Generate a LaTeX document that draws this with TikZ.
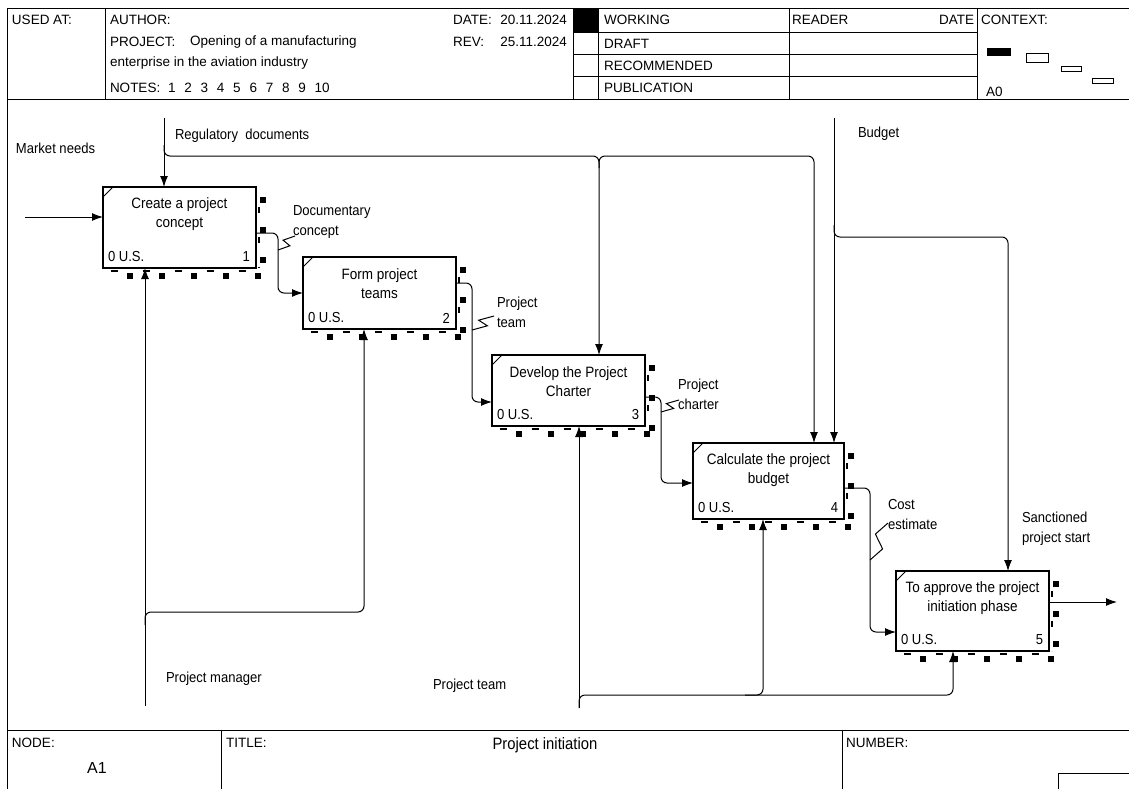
\documentclass[tikz,border=0pt]{standalone}
\usepackage{fontspec}
\setmainfont{Liberation Sans}[FakeStretch=0.9]
\newfontfamily\hdrfont{Liberation Sans}
\usetikzlibrary{arrows.meta,calc}
\newcommand\actbox[8]{%
  \node[abox, minimum width=#4pt, minimum height=#5pt] (#1) at (#2,#3) {};
  \draw[line width=1pt] (#2,#3+10) -- (#2+10,#3);
  \node[btxt] at (#2+#4/2, #3+27) {#6\\#7};
  \node[sm, anchor=west] at (#2+5, #3+#5-11) {0 U.S.};
  \node[sm, anchor=east] at (#2+#4-6, #3+#5-11) {#8};
  \draw[line width=6pt, dash pattern=on 6pt off 26pt] (#2+24,#3+#5+8) -- (#2+#4+10,#3+#5+8);
  \draw[line width=2.5pt, dash pattern=on 7pt off 25pt] (#2+8,#3+#5+3) -- (#2+#4,#3+#5+3);
  \draw[line width=6pt, dash pattern=on 6pt off 24pt] (#2+#4+7,#3+10) -- (#2+#4+7,#3+#5+10);
  \draw[line width=2.5pt, dash pattern=on 6pt off 24pt] (#2+#4+3,#3+20) -- (#2+#4+3,#3+#5);
}
\newcommand\squig[4]{\draw[conn] (#1,#2) -- ({#1+0.7*(#3-#1)},{#2+0.3*(#4-#2)}) -- ({#1+0.3*(#3-#1)},{#2+0.7*(#4-#2)}) -- (#3,#4);}
\begin{document}
\begin{tikzpicture}[x=1pt,y=-1pt,
  every node/.style={inner sep=0pt, outer sep=0pt},
  hdr/.style={font=\hdrfont\fontsize{13.5}{16}\selectfont, anchor=west},
  sm/.style={font=\fontsize{14.5}{16}\selectfont},
  lbl/.style={font=\fontsize{14.5}{20}\selectfont, anchor=west, align=left},
  btxt/.style={font=\fontsize{15}{19}\selectfont, align=center},
  abox/.style={draw, line width=2pt, anchor=north west, fill=white},
  conn/.style={line width=1pt},
  arr/.style={conn, -{Latex[length=11pt,width=8pt]}},
  rc/.style={rounded corners=6pt},
  frame/.style={line width=1pt}]
\useasboundingbox (0,0) rectangle (1129,789);
% ---------- frame and header ----------
\draw[frame] (7.5,790) -- (7.5,9) -- (1129,9);
\draw[frame] (7.5,100) -- (1129,100);
\draw[frame] (7.5,730) -- (1129,730);
\foreach \x in {105,573,598,789,977} \draw[frame] (\x,9) -- (\x,100);
\foreach \y in {33,55,77} \draw[frame] (573,\y) -- (977,\y);
\fill (573,9) rectangle (598,33);
\node[hdr] (usedat) at (12,20) {USED AT:};
\node[hdr] (author) at (110,20) {AUTHOR:};
\node[hdr] (project) at (110,42) {PROJECT:};
\node[hdr] (projtxt) at (190,42) {Opening of a manufacturing};
\node[hdr] (projtxt2) at (110,63) {enterprise in the aviation industry};
\node[hdr] (notes) at (110,88) {NOTES:};
\foreach \i in {1,...,10} \node[hdr] (n\i) at ({168+16.3*(\i-1)},88) {\i};
\node[hdr] (date) at (453,20) {DATE:};
\node[hdr, anchor=east] (dateval) at (567,20) {20.11.2024};
\node[hdr] (rev) at (453,42) {REV:};
\node[hdr, anchor=east] (revval) at (567,42) {25.11.2024};
\node[hdr] (working) at (604,20) {WORKING};
\node[hdr] (draft) at (604,44) {DRAFT};
\node[hdr] (recom) at (604,66) {RECOMMENDED};
\node[hdr] (publ) at (604,88) {PUBLICATION};
\node[hdr] (reader) at (792,20) {READER};
\node[hdr, anchor=east] (rdate) at (974,20) {DATE};
\node[hdr] (context) at (981,20) {CONTEXT:};
\node[hdr] (a0) at (986,92) {A0};
\fill (987,48) rectangle (1011,56);
\draw[line width=0.8pt] (1026,53) rectangle (1048,62);
\draw[line width=0.8pt] (1061,66) rectangle (1081,71);
\draw[line width=0.8pt] (1092,78) rectangle (1113,83);
% ---------- footer ----------
\draw[frame] (221,730) -- (221,790);
\draw[frame] (842,730) -- (842,790);
\draw[frame] (1058,790) -- (1058,773) -- (1130,773);
\node[hdr] (node) at (12,743) {NODE:};
\node[font=\hdrfont\fontsize{16}{18}\selectfont] (a1) at (97,768) {A1};
\node[hdr] (title) at (226,743) {TITLE:};
\node[font=\fontsize{16.5}{19}\selectfont] (ptitle) at (545,745) {Project initiation};
\node[hdr] (number) at (846,743) {NUMBER:};
% ---------- connectors ----------
\coordinate (mn) at (25,217);
\coordinate (rd) at (164,118);
\coordinate (rdb) at (164,145);
\coordinate (rdh) at (599,156);
\coordinate (rdb2) at (599,168);
\coordinate (rdh2) at (814,156);
\coordinate (bu) at (834,118);
\coordinate (bub) at (834,225);
\coordinate (buh) at (1008,237);
\coordinate (o1) at (278,233);
\coordinate (o1t) at (278,293);
\coordinate (o2) at (472,283);
\coordinate (o2t) at (472,402);
\coordinate (o3) at (661,397);
\coordinate (o3t) at (661,483);
\coordinate (o4) at (870,488);
\coordinate (o4t) at (870,632);
\coordinate (so) at (1117,602);
\coordinate (pm) at (145,706);
\coordinate (pmb) at (145,625);
\coordinate (pmh) at (364,612);
\coordinate (pt) at (579,708);
\coordinate (pth) at (953,695);
\coordinate (ptb2) at (745,695);
\coordinate (pt4) at (763,695);
% ---------- boxes ----------
\actbox{b1}{103}{187}{153}{81}{Create a project}{concept}{1}
\actbox{b2}{303}{257}{153}{72}{Form project}{teams}{2}
\actbox{b3}{492}{355}{153}{71}{Develop the Project}{Charter}{3}
\actbox{b4}{693}{443}{151}{76}{Calculate the project}{budget}{4}
\actbox{b5}{896}{571}{153}{80}{To approve the project}{initiation phase}{5}
% ---------- inputs / controls ----------
\draw[arr] (mn) -- (mn -| b1.west);
\draw[arr] (rd) -- (rd |- b1.north);
\draw[arr, rc] (rdb) |- (rdh) -- (rdh |- b3.north);
\draw[arr, rc] (rdb2) |- (rdh2) -- (rdh2 |- b4.north);
\draw[arr] (bu) -- (bu |- b4.north);
\draw[arr, rc] (bub) |- (buh) -- (buh |- b5.north);
% ---------- outputs ----------
\draw[arr, rc] (o1 -| b1.east) -- (o1) -- (o1t) -- (o1t -| b2.west);
\draw[arr, rc] (o2 -| b2.east) -- (o2) -- (o2t) -- (o2t -| b3.west);
\draw[arr, rc] (o3 -| b3.east) -- (o3) -- (o3t) -- (o3t -| b4.west);
\draw[arr, rc] (o4 -| b4.east) -- (o4) -- (o4t) -- (o4t -| b5.west);
\draw[arr] (so -| b5.east) -- (so);
% ---------- mechanisms ----------
\draw[arr] (pm) -- (pm |- b1.south);
\draw[arr, rc] (pmb) |- (pmh) -- (pmh |- b2.south);
\draw[arr] (pt) -- (pt |- b3.south);
\draw[arr, rc] (pt) |- (pth) -- (pth |- b5.south);
\draw[arr, rc] (ptb2) -- (pt4) -- (pt4 |- b4.south);
% ---------- squiggles ----------
\squig{278}{250}{295}{236}
\squig{472}{330}{494}{316}
\squig{661}{412}{679}{400}
\squig{870}{560}{888}{523}
% ---------- labels ----------
\node[lbl] (lmn) at (16,148) {Market needs};
\node[lbl] (lrd) at (175,136) {Regulatory\ \ documents};
\node[lbl] (lbu) at (858,134) {Budget};
\node[lbl] (ldc) at (293,222) {Documentary\\concept};
\node[lbl] (lpt) at (497,312) {Project\\team};
\node[lbl] (lpc) at (678,394) {Project\\charter};
\node[lbl] (lce) at (888,515) {Cost\\estimate};
\node[lbl] (lsp) at (1022,529) {Sanctioned\\project start};
\node[lbl] (lpm) at (166,679) {Project manager};
\node[lbl] (lptm) at (433,686) {Project team};
\end{tikzpicture}
\end{document}
